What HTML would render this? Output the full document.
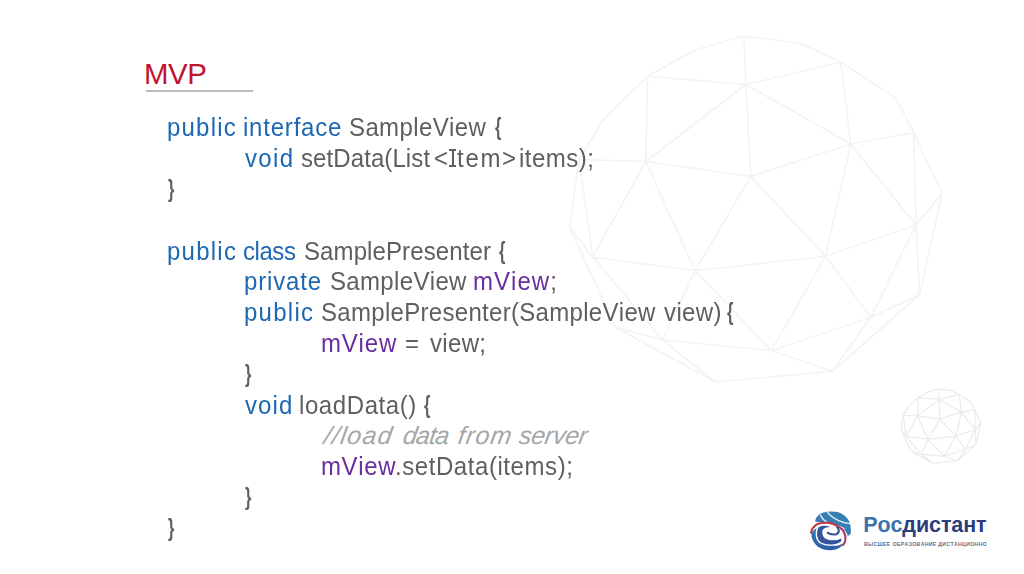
<!DOCTYPE html>
<html><head><meta charset="utf-8">
<style>
html,body{margin:0;padding:0;background:#fff;}
body{width:1024px;height:574px;position:relative;overflow:hidden;font-family:"Liberation Sans",sans-serif;font-kerning:none;}
#bg{position:absolute;left:0;top:0;}
.title{position:absolute;left:144px;top:57px;font-size:29.4px;color:#c0142f;line-height:34px;white-space:pre;letter-spacing:-0.45px;}
.rule{position:absolute;left:146px;top:90px;width:106.5px;height:2px;background:#bebebe;}
.code{position:absolute;left:0;top:0;font-size:25px;color:#5f5f5f;}
.t{position:absolute;white-space:pre;line-height:30px;transform-origin:0 0;}
.mono{font-family:"Liberation Mono",monospace;font-weight:bold;}
.k{color:#1e68b2;}
.v{color:#6a2e9e;}
.c{color:#a6a6a6;font-style:italic;}
.logo{position:absolute;left:808px;top:508px;filter:blur(0.4px);}
.brand{position:absolute;left:863.2px;top:513px;font-size:21.5px;font-weight:bold;line-height:24px;white-space:pre;color:#2b3d7d;letter-spacing:-0.09px;}
.brand .r{color:#3a73ad;}
.sub{position:absolute;left:864px;top:540px;font-size:5.2px;font-weight:bold;line-height:8px;white-space:pre;color:#6a6c8c;letter-spacing:0.32px;}
</style></head><body>
<svg id="bg" width="1024" height="574" viewBox="0 0 1024 574">
<g fill="none" stroke="#f3f3f3" stroke-width="1.6" stroke-linecap="round">
<path d="M743.8 36L799.5 43M799.5 43L840.9 62.3M840.9 62.3L895.5 97.7M895.5 97.7L913.7 132.5M913.7 132.5L942 193.5M942 193.5L919.6 294.6M919.6 294.6L832.4 371.3M832.4 371.3L715.2 382M715.2 382L615 327M615 327L569.5 227M569.5 227L579 159.5M579 159.5L603 120M603 120L647.7 76.3M647.7 76.3L695 50M695 50L743.8 36M743.8 36L746 84.5M647.7 76.3L746 84.5M746 84.5L840.9 62.3M647.7 76.3L645.7 161.5M746 84.5L645.7 161.5M746 84.5L750.7 176.5M645.7 161.5L750.7 176.5M746 84.5L850.8 144M840.9 62.3L850.8 144M850.8 144L913.7 132.5M750.7 176.5L850.8 144M645.7 161.5L579 159.5M579 159.5L592.8 257M645.7 161.5L592.8 257M569.5 227L592.8 257M645.7 161.5L695 270.8M750.7 176.5L695 270.8M592.8 257L695 270.8M750.7 176.5L825.4 256.2M850.8 144L825.4 256.2M850.8 144L916 225M913.7 132.5L916 225M916 225L942 193.5M916 225L919.6 294.6M825.4 256.2L916 225M825.4 256.2L870.8 317.3M916 225L870.8 317.3M870.8 317.3L919.6 294.6M695 270.8L825.4 256.2M825.4 256.2L771.4 350.4M870.8 317.3L771.4 350.4M870.8 317.3L832.4 371.3M771.4 350.4L832.4 371.3M695 270.8L771.4 350.4M695 270.8L662.5 340M592.8 257L662.5 340M615 327L662.5 340M662.5 340L771.4 350.4M662.5 340L715.2 382"/>
</g>
<g fill="none" stroke="#ebebeb" stroke-width="1.2" transform="translate(779.3 381.3) scale(0.214)">
<path vector-effect="non-scaling-stroke" d="M743.8 36L799.5 43M799.5 43L840.9 62.3M840.9 62.3L895.5 97.7M895.5 97.7L913.7 132.5M913.7 132.5L942 193.5M942 193.5L919.6 294.6M919.6 294.6L832.4 371.3M832.4 371.3L715.2 382M715.2 382L615 327M615 327L569.5 227M569.5 227L579 159.5M579 159.5L603 120M603 120L647.7 76.3M647.7 76.3L695 50M695 50L743.8 36M743.8 36L746 84.5M647.7 76.3L746 84.5M746 84.5L840.9 62.3M647.7 76.3L645.7 161.5M746 84.5L645.7 161.5M746 84.5L750.7 176.5M645.7 161.5L750.7 176.5M746 84.5L850.8 144M840.9 62.3L850.8 144M850.8 144L913.7 132.5M750.7 176.5L850.8 144M645.7 161.5L579 159.5M579 159.5L592.8 257M645.7 161.5L592.8 257M569.5 227L592.8 257M645.7 161.5L695 270.8M750.7 176.5L695 270.8M592.8 257L695 270.8M750.7 176.5L825.4 256.2M850.8 144L825.4 256.2M850.8 144L916 225M913.7 132.5L916 225M916 225L942 193.5M916 225L919.6 294.6M825.4 256.2L916 225M825.4 256.2L870.8 317.3M916 225L870.8 317.3M870.8 317.3L919.6 294.6M695 270.8L825.4 256.2M825.4 256.2L771.4 350.4M870.8 317.3L771.4 350.4M870.8 317.3L832.4 371.3M771.4 350.4L832.4 371.3M695 270.8L771.4 350.4M695 270.8L662.5 340M592.8 257L662.5 340M615 327L662.5 340M662.5 340L771.4 350.4M662.5 340L715.2 382"/>
</g>
</svg>
<div class="title">MVP</div>
<div class="rule"></div>
<div class="code">
<span class="t" style="left:167.35px;top:112.30px;letter-spacing:1.265px;transform:scaleX(0.96)"><span class="k">public</span></span>
<span class="t" style="left:243.19px;top:112.30px;letter-spacing:0.823px;transform:scaleX(0.96)"><span class="k">interface</span></span>
<span class="t" style="left:349.11px;top:112.30px;letter-spacing:0.398px;transform:scaleX(0.96)">SampleView</span>
<span class="t" style="left:494.73px;top:111.30px;font-weight:bold;transform-origin:0 24.0px;transform:scale(0.659,0.93)">{</span>
<span class="t" style="left:244.72px;top:143.10px;letter-spacing:1.389px;transform:scaleX(0.96)"><span class="k">void</span></span>
<span class="t" style="left:301.13px;top:143.10px;letter-spacing:0.094px;transform:scaleX(0.96)">setData(List</span>
<span class="t" style="left:434.12px;top:143.10px;transform:scaleX(0.96)">&lt;</span>
<span class="t" style="left:457.34px;top:143.10px;letter-spacing:1.790px;transform:scaleX(0.96)">tem</span>
<span class="t" style="left:501.92px;top:143.10px;transform:scaleX(0.96)">&gt;</span>
<span class="t" style="left:518.69px;top:143.10px;letter-spacing:0.497px;transform:scaleX(0.96)">items);</span>
<span class="t" style="left:167.66px;top:172.90px;font-weight:bold;transform-origin:0 24.0px;transform:scale(0.657,0.93)">}</span>
<span class="t" style="left:167.25px;top:235.50px;letter-spacing:1.286px;transform:scaleX(0.96)"><span class="k">public</span></span>
<span class="t" style="left:242.98px;top:235.50px;letter-spacing:-0.467px;transform:scaleX(0.96)"><span class="k">class</span></span>
<span class="t" style="left:304.11px;top:235.50px;letter-spacing:0.109px;transform:scaleX(0.96)">SamplePresenter</span>
<span class="t" style="left:498.53px;top:234.50px;font-weight:bold;transform-origin:0 24.0px;transform:scale(0.659,0.93)">{</span>
<span class="t" style="left:244.45px;top:266.30px;letter-spacing:0.882px;transform:scaleX(0.96)"><span class="k">private</span></span>
<span class="t" style="left:329.51px;top:266.30px;letter-spacing:0.351px;transform:scaleX(0.96)">SampleView</span>
<span class="t" style="left:473.11px;top:266.30px;letter-spacing:1.077px;transform:scaleX(0.96)"><span class="v">mView</span>;</span>
<span class="t" style="left:244.05px;top:297.10px;letter-spacing:1.307px;transform:scaleX(0.96)"><span class="k">public</span></span>
<span class="t" style="left:320.71px;top:297.10px;letter-spacing:0.317px;transform:scaleX(0.96)">SamplePresenter(SampleView</span>
<span class="t" style="left:663.92px;top:297.10px;letter-spacing:0.408px;transform:scaleX(0.96)">view)</span>
<span class="t" style="left:727.33px;top:296.10px;font-weight:bold;transform-origin:0 24.0px;transform:scale(0.659,0.93)">{</span>
<span class="t" style="left:320.91px;top:327.90px;letter-spacing:0.839px;transform:scaleX(0.96)"><span class="v">mView</span></span>
<span class="t" style="left:405.13px;top:327.90px;transform:scaleX(0.96)">=</span>
<span class="t" style="left:429.92px;top:327.90px;letter-spacing:0.354px;transform:scaleX(0.96)">view;</span>
<span class="t" style="left:244.66px;top:357.70px;font-weight:bold;transform-origin:0 24.0px;transform:scale(0.657,0.93)">}</span>
<span class="t" style="left:245.12px;top:389.50px;letter-spacing:1.112px;transform:scaleX(0.96)"><span class="k">void</span></span>
<span class="t" style="left:299.38px;top:389.50px;letter-spacing:0.608px;transform:scaleX(0.96)">loadData()</span>
<span class="t" style="left:423.73px;top:388.50px;font-weight:bold;transform-origin:0 24.0px;transform:scale(0.659,0.93)">{</span>
<span class="t" style="left:322.72px;top:420.30px;letter-spacing:1.294px;transform-origin:0 24.0px;transform:skewX(-9deg)"><span class="c">//load</span></span>
<span class="t" style="left:401.66px;top:420.30px;letter-spacing:-0.820px;transform-origin:0 24.0px;transform:skewX(-9deg)"><span class="c">data</span></span>
<span class="t" style="left:457.46px;top:420.30px;letter-spacing:1.134px;transform-origin:0 24.0px;transform:skewX(-9deg)"><span class="c">from</span></span>
<span class="t" style="left:518.34px;top:420.30px;letter-spacing:-0.268px;transform-origin:0 24.0px;transform:skewX(-9deg)"><span class="c">server</span></span>
<span class="t" style="left:320.71px;top:451.10px;letter-spacing:0.657px;transform:scaleX(0.96)"><span class="v">mView</span></span>
<span class="t" style="left:395.31px;top:451.10px;letter-spacing:0.589px;transform:scaleX(0.96)">.setData(items);</span>
<span class="t" style="left:244.86px;top:480.90px;font-weight:bold;transform-origin:0 24.0px;transform:scale(0.657,0.93)">}</span>
<span class="t" style="left:167.66px;top:511.70px;font-weight:bold;transform-origin:0 24.0px;transform:scale(0.657,0.93)">}</span>
<div style="position:absolute;left:451.8px;top:149px;width:2.1px;height:17.9px;background:#5f5f5f"></div>
<div style="position:absolute;left:449.4px;top:149px;width:6.9px;height:1.7px;background:#5f5f5f"></div>
<div style="position:absolute;left:449.4px;top:165.2px;width:6.9px;height:1.7px;background:#5f5f5f"></div>
</div>
<svg class="logo" width="44" height="44" viewBox="0 0 574 574">
<defs>
<linearGradient id="rg" x1="0" y1="0" x2="1" y2="0"><stop offset="0" stop-color="#c2323c"/><stop offset="0.6" stop-color="#c23a44"/><stop offset="1" stop-color="#a03a6a"/></linearGradient>
<linearGradient id="bg1" x1="0" y1="0" x2="0" y2="1"><stop offset="0" stop-color="#3578b4"/><stop offset="1" stop-color="#2d5fa5"/></linearGradient>
</defs>
<path d="M95 160 Q110 95 190 62 Q290 30 400 55 Q500 90 545 190 Q560 240 555 300 L540 300 Q470 255 400 228 Q300 190 200 185 Q130 182 95 178 Z" fill="#3a7fb3"/>
<path d="M162 88 Q190 160 270 200" stroke="#e8f6fb" stroke-width="17" fill="none"/>
<path d="M250 52 Q300 120 400 165 Q470 195 550 205" stroke="#e8f6fb" stroke-width="17" fill="none"/>
<path d="M470 265 Q510 285 555 272 L560 330 Q540 360 520 365 Q505 310 470 280 Z" fill="#3a7db0"/>
<path d="M40 335 Q45 255 120 210 Q200 185 280 195 Q380 215 450 285 Q500 350 485 430 Q475 470 448 490" stroke="url(#rg)" stroke-width="27" fill="none"/>
<path d="M45 330 Q38 430 130 505 Q200 552 300 551 Q390 542 442 495 L446 462 Q420 490 330 494 Q210 496 150 455 Q98 410 100 345 Q100 295 112 262 Q66 288 45 330 Z" fill="url(#bg1)"/>
<path d="M135 255 Q115 300 118 352 Q125 420 175 452 Q240 478 320 476 Q400 470 436 432 L432 393 Q395 422 330 422 Q255 422 215 390 Q175 345 190 290 Q215 248 292 248 Q240 226 190 232 Q155 240 135 255 Z" fill="#34549b"/>
<path d="M248 318 Q300 356 368 343 Q405 328 402 290 Q395 258 372 245" stroke="#3a4f98" stroke-width="26" fill="none"/>
</svg>
<div class="brand"><span class="r">Рос</span>дистант</div>
<div class="sub">ВЫСШЕЕ ОБРАЗОВАНИЕ ДИСТАНЦИОННО</div>
</body></html>
